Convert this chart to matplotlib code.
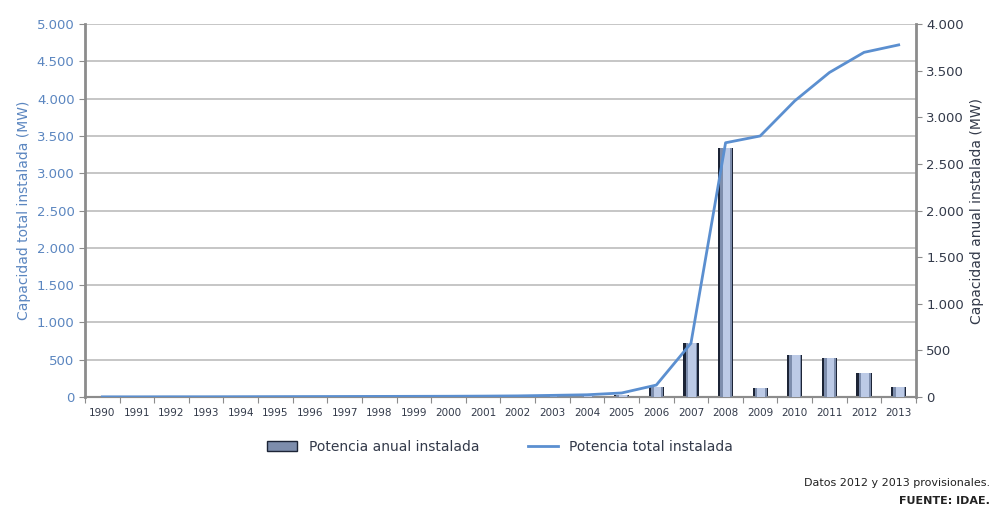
import matplotlib
matplotlib.use("Agg")
import matplotlib.pyplot as plt
import numpy as np

years = [str(y) for y in range(1990, 2014)]
annual = [0, 0, 0, 0, 0, 0, 0, 0, 0, 0, 0, 0, 3, 8, 10, 22, 110, 578, 2672, 97, 450, 421, 261, 107]
total = [2, 2, 3, 3, 4, 5, 6, 7, 8, 9, 10, 12, 15, 22, 30, 54, 160, 720, 3408, 3499, 3970, 4350, 4620, 4720]
left_ticks = [0, 500, 1000, 1500, 2000, 2500, 3000, 3500, 4000, 4500, 5000]
right_ticks = [0, 500, 1000, 1500, 2000, 2500, 3000, 3500, 4000]

def fmt(v):
    return f"{v:,}".replace(",", ".")

fig = plt.figure(figsize=(9.95, 5.09), dpi=100)
ax = fig.add_axes([85/995, 1-397/509, (916-85)/995, (397-24)/509])
ax2 = ax.twinx()

x = np.arange(len(years))
blue_txt = "#5b86c0"
dark_txt = "#333a4a"
grid_c = "#bcbcbc"
spine_c = "#8c8c8c"

ax.set_ylim(0, 5000)
ax.set_yticks(left_ticks)
ax.set_yticklabels([fmt(v) for v in left_ticks], color=blue_txt, fontsize=9.5)
ax.grid(axis="y", color=grid_c, linewidth=1.2)
ax.set_axisbelow(True)
ax.set_xlim(-0.5, len(years) - 0.5)
ax.set_xticks(np.arange(-0.5, len(years), 1.0))
ax.set_xticklabels([])
ax.set_xticks(x, minor=True)
ax.set_xticklabels(years, minor=True, fontsize=7.5, color=dark_txt)
ax.tick_params(axis="x", which="minor", length=0, pad=8)
ax.tick_params(axis="x", which="major", length=4, color=spine_c)
ax.tick_params(axis="y", length=4, color=spine_c)
ax.set_ylabel("Capacidad total instalada (MW)", color=blue_txt, fontsize=10)

# bars on right axis (gradient look via layered bars)
w = 0.44
ax2.bar(x, annual, width=w, color="#1c2436", zorder=2)
ax2.bar(x + 0.015, annual, width=w * 0.78, color="#7d8dac", zorder=3)
ax2.bar(x + 0.03, annual, width=w * 0.5, color="#bccaE6", zorder=4)
ax2.set_ylim(0, 4000)
ax2.set_yticks(right_ticks)
ax2.set_yticklabels([fmt(v) for v in right_ticks], color=dark_txt, fontsize=9.5)
ax2.tick_params(axis="y", length=4, color=spine_c)
ax2.set_ylabel("Capacidad anual instalada (MW)", color=dark_txt, fontsize=10)

line_ax = ax.twinx()
line_ax.set_ylim(0, 5000)
line_ax.set_xlim(ax.get_xlim())
line_ax.axis("off")
line_ax.plot(x, total, color="#5b8fd0", linewidth=2.0, zorder=5)

for a in (ax, ax2):
    a.spines["top"].set_visible(False)
    for s in ("left", "right", "bottom"):
        a.spines[s].set_color(spine_c)
    a.spines["left"].set_linewidth(2)
    a.spines["right"].set_linewidth(2)
    a.spines["bottom"].set_linewidth(1.5)
ax.spines["right"].set_visible(False)
ax2.spines["left"].set_visible(False)

from matplotlib.patches import Patch
from matplotlib.lines import Line2D
handles = [Patch(facecolor="#7d8dac", edgecolor="#1c2436"),
           Line2D([0], [0], color="#5b8fd0", linewidth=2)]
fig.legend(handles, ["Potencia anual instalada", "Potencia total instalada"],
           loc="center", bbox_to_anchor=(500/995, 1-447/509), ncol=2, frameon=False,
           fontsize=10, handlelength=2.2, columnspacing=3.5, labelcolor=dark_txt)

fig.text(990/995, 1-483/509, "Datos 2012 y 2013 provisionales.", ha="right", va="center",
         fontsize=8, color="#222222")
fig.text(990/995, 1-501/509, "FUENTE: IDAE.", ha="right", va="center",
         fontsize=8, color="#222222", fontweight="bold")

fig.savefig("out.png", dpi=100)
